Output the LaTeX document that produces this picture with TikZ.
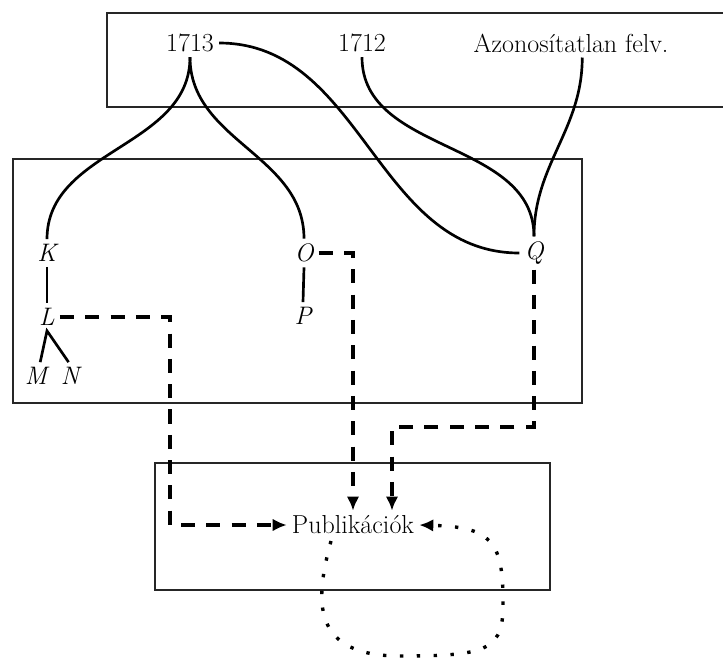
\documentclass[tikz,border=0pt]{standalone}
\usetikzlibrary{positioning}
\usetikzlibrary{arrows.meta}

\begin{document}
\begin{tikzpicture}[x=0.025cm,y=-0.025cm,
  box/.style={draw=black!85,line width=1.2pt},
  lbl/.style={font=\fontsize{18.5}{22}\selectfont,inner sep=3.5pt},
  sig/.style={font=\fontsize{18}{22}\selectfont\itshape,inner sep=3.5pt},
  link/.style={line width=1.9pt},
  dashlink/.style={line width=2.2pt,dash pattern=on 10pt off 8pt,-{Latex[length=10pt,width=9pt]}},
  dotlink/.style={line width=2.4pt,dash pattern=on 2.4pt off 9.6pt,-{Latex[length=10pt,width=9pt]}}]
\useasboundingbox (0,0) rectangle (723,659);
\draw[box] (107,13) rectangle (740,107);
\draw[box] (13,159) rectangle (582,403);
\draw[box] (155,463) rectangle (550,590);

\node[lbl] (y1713) at (190,43) {1713};
\node[lbl] (y1712) at (362,43) {1712};
\node[lbl] (azon) at (571,43) {Azonosítatlan felv.};

\node[sig] (K) at (47,253) {K};
\node[sig] (L) at (47,317) {L};
\node[sig] (M) at (36,376) {M};
\node[sig] (N) at (70,376) {N};
\node[sig] (O) at (304,253) {O};
\node[sig] (P) at (303,316) {P};
\node[sig] (Q) at (534,253) {Q};
\node[lbl] (pub) at (353,525) {Publikációk};

\draw[link] (y1713.south) to[out=-90,in=90] (K.north);
\draw[link] (y1713.south) to[out=-90,in=90] (O.north);
\draw[link] (y1713.east) to[out=0,in=180] (Q.west);
\draw[link] (y1712.south) to[out=-90,in=90] (Q.north);
\draw[link] ([xshift=8pt]azon.south) to[out=-90,in=90] (Q.north);
\draw[link] (K.south) -- (L.north);
\draw[link] ([xshift=3pt]M.north) -- (L.south) -- ([xshift=-1pt]N.north);
\draw[link] (O.south) -- (P.north);

\coordinate (lbend) at (170,317);
\coordinate (obend) at (353,253);
\coordinate (qbend) at (534,427);
\coordinate (qturn) at (392,427);
\draw[dashlink] (L.east) -- (lbend) -- (lbend |- pub.west) -- (pub.west);
\draw[dashlink] (O.east) -- (obend) -- (obend |- pub.north);
\draw[dashlink] (Q.south) -- (qbend) -- (qturn) -- (qturn |- pub.north);

\coordinate (loopstart) at (331,541);
\coordinate (loopbottom) at (400,656);
\coordinate (loopright) at (503,600);
\draw[dotlink] (loopstart) .. controls (315,600) and (310,656) .. (loopbottom)
  .. controls (490,656) and (504,650) .. (loopright)
  .. controls (503,540) and (490,527) .. (pub.east);
\end{tikzpicture}
\end{document}
